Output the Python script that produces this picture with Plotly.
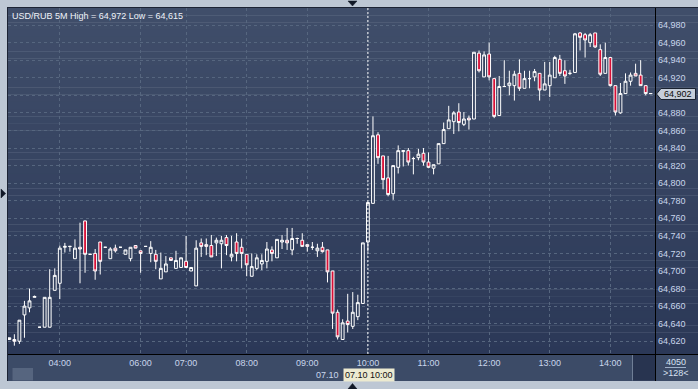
import plotly.graph_objects as go

# ---- data (USD/RUB 5-minute candles) ----
opens = [64622, 64622, 64620, 64650, 64658, 64670, 64636, 64636, 64636, 64678,
         64686, 64727, 64728, 64714, 64727, 64757, 64719, 64720, 64733, 64727,
         64714, 64726, 64727, 64719, 64714, 64729, 64723, 64728, 64720, 64719,
         64691, 64699, 64715, 64703, 64704, 64711, 64700, 64683, 64732, 64730,
         64729, 64732, 64731, 64738, 64716, 64733, 64727, 64719, 64694, 64703,
         64708, 64711, 64724, 64715, 64733, 64735, 64724, 64737, 64735, 64730,
         64727, 64723, 64727, 64724, 64700, 64653, 64622, 64643, 64637, 64648,
         64663, 64733, 64777, 64855, 64831, 64806, 64788, 64818, 64836, 64837,
         64828, 64829, 64834, 64824, 64817, 64822, 64845, 64862, 64870, 64881,
         64867, 64874, 64873, 64948, 64921, 64947, 64919, 64877, 64910, 64911,
         64911, 64925, 64908, 64919, 64921, 64925, 64906, 64911, 64920, 64941,
         64928, 64925, 64926, 64971, 64969, 64960, 64971, 64952, 64925, 64943,
         64911, 64880, 64902, 64916, 64925, 64923, 64911, 64902]
highs = [64624, 64628, 64644, 64666, 64680, 64672, 64636, 64670, 64702, 64703,
         64729, 64732, 64728, 64736, 64755, 64757, 64719, 64725, 64733, 64727,
         64727, 64730, 64727, 64724, 64727, 64729, 64723, 64728, 64734, 64724,
         64721, 64717, 64715, 64723, 64715, 64740, 64704, 64735, 64737, 64737,
         64741, 64738, 64740, 64741, 64740, 64743, 64737, 64719, 64720, 64719,
         64719, 64733, 64728, 64736, 64741, 64749, 64749, 64738, 64743, 64730,
         64733, 64731, 64733, 64724, 64700, 64656, 64645, 64674, 64676, 64673,
         64732, 64778, 64876, 64858, 64831, 64831, 64820, 64843, 64837, 64840,
         64830, 64839, 64840, 64835, 64821, 64845, 64869, 64888, 64882, 64891,
         64881, 64877, 64949, 64951, 64950, 64960, 64919, 64922, 64940, 64928,
         64928, 64941, 64928, 64928, 64930, 64925, 64938, 64938, 64945, 64946,
         64940, 64929, 64971, 64972, 64971, 64971, 64971, 64958, 64960, 64943,
         64911, 64914, 64925, 64926, 64936, 64940, 64911, 64902]
lows = [64622, 64615, 64617, 64624, 64653, 64670, 64636, 64636, 64636, 64678,
        64668, 64721, 64722, 64714, 64686, 64698, 64719, 64690, 64696, 64727,
        64714, 64721, 64727, 64719, 64711, 64726, 64698, 64728, 64710, 64702,
        64691, 64699, 64712, 64703, 64704, 64704, 64700, 64683, 64716, 64718,
        64716, 64717, 64703, 64718, 64711, 64711, 64703, 64694, 64694, 64701,
        64701, 64703, 64711, 64715, 64725, 64724, 64718, 64731, 64728, 64722,
        64724, 64716, 64721, 64687, 64634, 64622, 64622, 64630, 64634, 64644,
        64663, 64722, 64777, 64822, 64793, 64785, 64781, 64811, 64819, 64820,
        64810, 64826, 64820, 64817, 64810, 64822, 64845, 64862, 64856, 64859,
        64865, 64861, 64873, 64926, 64921, 64917, 64874, 64877, 64910, 64900,
        64894, 64905, 64908, 64908, 64916, 64894, 64906, 64898, 64920, 64922,
        64913, 64923, 64926, 64951, 64943, 64955, 64954, 64922, 64925, 64910,
        64877, 64879, 64902, 64911, 64922, 64911, 64900, 64902]
closes = [64624, 64620, 64644, 64660, 64666, 64671, 64636, 64670, 64670, 64695,
          64726, 64728, 64728, 64726, 64725, 64719, 64719, 64700, 64711, 64727,
          64725, 64723, 64727, 64724, 64727, 64726, 64720, 64728, 64727, 64711,
          64703, 64708, 64712, 64712, 64715, 64704, 64704, 64726, 64728, 64728,
          64716, 64735, 64735, 64729, 64719, 64720, 64720, 64707, 64705, 64715,
          64712, 64725, 64720, 64736, 64735, 64732, 64737, 64737, 64728, 64728,
          64727, 64726, 64722, 64699, 64652, 64625, 64641, 64639, 64653, 64664,
          64732, 64778, 64854, 64829, 64804, 64787, 64820, 64837, 64837, 64824,
          64828, 64833, 64824, 64818, 64821, 64845, 64861, 64872, 64880, 64869,
          64873, 64872, 64949, 64928, 64946, 64921, 64876, 64910, 64910, 64914,
          64924, 64908, 64919, 64919, 64927, 64906, 64913, 64923, 64943, 64925,
          64922, 64925, 64970, 64966, 64963, 64969, 64955, 64924, 64943, 64911,
          64881, 64902, 64916, 64923, 64922, 64911, 64902, 64902]
idx = list(range(len(opens)))

time_tick_idx = [10, 26, 35, 47, 59, 71, 83, 95, 107, 119]
time_tick_text = ["04:00", "06:00", "07:00", "08:00", "09:00",
                  "10:00", "11:00", "12:00", "13:00", "14:00"]
price_ticks = list(range(64620, 64981, 20))
price_tick_text = ["" if v == 64900 else f"{v // 1000},{v % 1000:03d}" for v in price_ticks]

title_text = "USD/RUB 5M High = 64,972 Low = 64,615"
last_price_text = "64,902"
cursor_idx = 71
cursor_text = "07.10 10:00"
date_text = "07.10"

W, H = 698, 389
L, R, T, B = 8, 655, 8, 354


def px(x):
    return (x - L) / (R - L)


def py(y):
    return (B - y) / (B - T)


FONT = "Liberation Sans, Arial, sans-serif"

fig = go.Figure()
fig.add_trace(go.Candlestick(
    x=idx, open=opens, high=highs, low=lows, close=closes,
    increasing=dict(line=dict(color="#ffffff", width=1), fillcolor="#34425f"),
    decreasing=dict(line=dict(color="#ffffff", width=1), fillcolor="#d80f36"),
    whiskerwidth=0, hoverinfo="skip", showlegend=False,
))

shapes = []
# gradient background of plot + price-axis panel
n = 48
top_c = (64, 78, 106)
bot_c = (43, 56, 87)
for k in range(n):
    y0 = T + (B - T) * k / n
    y1 = T + (B - T) * (k + 1) / n
    f = (k + 0.5) / n
    c = tuple(int(round(top_c[j] + (bot_c[j] - top_c[j]) * f)) for j in range(3))
    shapes.append(dict(type="rect", xref="paper", yref="paper",
                       x0=px(L), x1=px(W + 2), y0=py(y1 + 0.3), y1=py(y0),
                       fillcolor="rgb(%d,%d,%d)" % c, line=dict(width=0), layer="below"))
# time axis strip
shapes.append(dict(type="rect", xref="paper", yref="paper", x0=px(L), x1=px(W + 2),
                   y0=py(381), y1=py(354), fillcolor="#3c4b67", line=dict(width=0), layer="below"))
# scrollbar thumb
shapes.append(dict(type="rect", xref="paper", yref="paper", x0=px(12.5), x1=px(33),
                   y0=py(380.5), y1=py(368), fillcolor="#56657f", line=dict(width=0), layer="above"))
# dark box bottom right of time strip
shapes.append(dict(type="rect", xref="paper", yref="paper", x0=px(633), x1=px(655),
                   y0=py(380.5), y1=py(355), fillcolor="#283450",
                   line=dict(width=0), layer="above"))
shapes.append(dict(type="line", xref="paper", yref="paper", x0=px(632.5), x1=px(632.5),
                   y0=py(380.5), y1=py(355), line=dict(color="#6f7e96", width=1), layer="above"))
# frame dark lines
shapes.append(dict(type="line", xref="paper", yref="paper", x0=px(7), x1=px(W + 2),
                   y0=py(7.5), y1=py(7.5), line=dict(color="#1c2334", width=1), layer="above"))
shapes.append(dict(type="line", xref="paper", yref="paper", x0=px(7.5), x1=px(7.5),
                   y0=py(381), y1=py(7), line=dict(color="#1c2334", width=1), layer="above"))
# black axis lines
shapes.append(dict(type="line", xref="paper", yref="paper", x0=px(L), x1=px(W + 2),
                   y0=py(354.5), y1=py(354.5), line=dict(color="#000000", width=1), layer="above"))
shapes.append(dict(type="line", xref="paper", yref="paper", x0=px(655.5), x1=px(655.5),
                   y0=py(381), y1=py(8), line=dict(color="#000000", width=1), layer="above"))
# underline of volume number
shapes.append(dict(type="line", xref="paper", yref="paper", x0=px(665), x1=px(686),
                   y0=py(367.5), y1=py(367.5), line=dict(color="#9fb0c8", width=1), layer="above"))
# crosshair
shapes.append(dict(type="line", xref="x", yref="paper", x0=cursor_idx, x1=cursor_idx,
                   y0=0, y1=1, line=dict(color="#ffffff", width=1, dash="2px,2px"), layer="above"))


def tri(pts):
    p = "M " + " L ".join("%.5f,%.5f" % (px(a), py(b)) for a, b in pts) + " Z"
    return dict(type="path", xref="paper", yref="paper", path=p,
                fillcolor="#111827", line=dict(color="#111827", width=0.5), layer="above")


shapes.append(tri([(348, 1), (357, 1), (352.5, 6)]))
shapes.append(tri([(1, 189), (1, 198), (5.7, 193.5)]))
shapes.append(tri([(348, 389), (357, 389), (352.5, 383.5)]))
# last price label
lp = [(656.5, 94), (661, 88.5), (695.5, 88.5), (695.5, 99.5), (661, 99.5)]
shapes.append(dict(type="path", xref="paper", yref="paper",
                   path="M " + " L ".join("%.5f,%.5f" % (px(a), py(b)) for a, b in lp) + " Z",
                   fillcolor="#c6ceda", line=dict(color="#1a2230", width=1), layer="above"))

annotations = [
    dict(text=title_text, xref="paper", yref="paper", x=px(9.5), y=py(15.5),
         xanchor="left", yanchor="middle", showarrow=False,
         font=dict(family=FONT, size=9, color="#eef2f8")),
    dict(text=last_price_text, xref="paper", yref="paper", x=px(661.5), y=py(94),
         xanchor="left", yanchor="middle", showarrow=False,
         font=dict(family=FONT, size=9, color="#0a0a0a")),
    dict(text="4050", xref="paper", yref="paper", x=px(676.5), y=py(362),
         xanchor="center", yanchor="middle", showarrow=False,
         font=dict(family=FONT, size=9, color="#d8e2f2")),
    dict(text=">128<", xref="paper", yref="paper", x=px(676.5), y=py(373.5),
         xanchor="center", yanchor="middle", showarrow=False,
         font=dict(family=FONT, size=9, color="#d8e2f2")),
    dict(text=date_text, xref="paper", yref="paper", x=px(341), y=py(374.5),
         xanchor="right", yanchor="middle", showarrow=False,
         font=dict(family=FONT, size=9, color="#c9d6ec")),
    dict(text=cursor_text, xref="paper", yref="paper", x=px(368.5), y=py(374.5),
         xanchor="center", yanchor="middle", showarrow=False, bgcolor="#ecead0",
         borderpad=1, font=dict(family=FONT, size=9, color="#111111")),
]

fig.update_layout(
    width=W, height=H,
    margin=dict(l=L, r=W - R, t=T, b=H - B, pad=0),
    paper_bgcolor="#bdc7d4", plot_bgcolor="rgba(0,0,0,0)",
    boxgap=0.2,
    shapes=shapes, annotations=annotations,
    font=dict(family=FONT, size=9, color="#c9d6ec"),
    xaxis=dict(range=[-0.257, 127.84], rangeslider=dict(visible=False),
               tickmode="array", tickvals=time_tick_idx, ticktext=time_tick_text,
               showgrid=True, gridcolor="#56667f", griddash="3px,3px", gridwidth=1,
               zeroline=False, showline=False, ticks="", ticklabelstandoff=2,
               tickfont=dict(family=FONT, size=9, color="#c9d6ec")),
    yaxis=dict(range=[64605.5, 64999.4], side="right",
               tickmode="array", tickvals=price_ticks, ticktext=price_tick_text,
               showgrid=True, gridcolor="#56667f", griddash="3px,3px", gridwidth=1,
               zeroline=False, showline=False, ticks="", ticklabelstandoff=2,
               tickfont=dict(family=FONT, size=9, color="#c9d6ec")),
    showlegend=False,
)

fig.write_html("out.html", config={"displayModeBar": False})
